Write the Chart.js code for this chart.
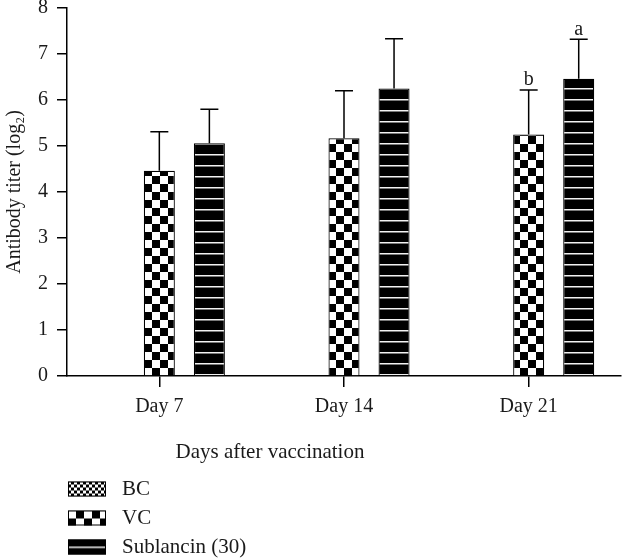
<!DOCTYPE html>
<html><head><meta charset="utf-8">
<script src="https://cdn.jsdelivr.net/npm/chart.js@4.4.0/dist/chart.umd.min.js"></script>
<style>html,body{margin:0;padding:0;background:#fff}#wrap{width:624px;height:560px;position:relative}</style>
</head><body><div id="wrap"><canvas id="c" width="624" height="560"></canvas></div>
<script>
const categories = ['Day 7', 'Day 14', 'Day 21'];
const seriesNames = ['BC', 'VC', 'Sublancin (30)'];
const bcValues = [null, null, null];
const vcValues = [4.46, 5.17, 5.25];
const sublancinValues = [5.06, 6.25, 6.46];
const bcErrorTop = [null, null, null];
const vcErrorTop = [5.31, 6.20, 6.22];
const sublancinErrorTop = [5.80, 7.33, 7.32];
const bcLetters = ['', '', ''];
const vcLetters = ['', '', 'b'];
const sublancinLetters = ['', '', 'a'];
const yTicks = [0, 1, 2, 3, 4, 5, 6, 7, 8];
const xTitle = 'Days after vaccination';
const yTitle = 'Antibody titer (log\u2082)';

const FONT = "'Liberation Serif', 'DejaVu Serif', serif";
const INK = '#1a1a1a';
const canvas = document.getElementById('c');
const ctx = canvas.getContext('2d');

function checker(s) {
  const c = document.createElement('canvas');
  c.width = c.height = s * 2;
  const g = c.getContext('2d');
  g.fillStyle = '#fff'; g.fillRect(0, 0, s * 2, s * 2);
  g.fillStyle = '#000'; g.fillRect(s, 0, s, s); g.fillRect(0, s, s, s);
  return ctx.createPattern(c, 'repeat');
}
function stripes(h) {
  const c = document.createElement('canvas');
  c.width = 8; c.height = h;
  const g = c.getContext('2d');
  g.fillStyle = '#000'; g.fillRect(0, 0, 8, h);
  g.fillStyle = '#f2f2f2'; g.fillRect(0, 0, 8, 1.5);
  return ctx.createPattern(c, 'repeat');
}
const bcPattern = checker(3);
const vcPattern = checker(8);
const subPattern = stripes(11);

const errors = [bcErrorTop, vcErrorTop, sublancinErrorTop];
const letters = [bcLetters, vcLetters, sublancinLetters];
const fills = [bcPattern, vcPattern, subPattern];

const extras = {
  id: 'extras',
  afterDatasetsDraw(chart) {
    const c = chart.ctx, y = chart.scales.y;
    c.save();
    c.strokeStyle = '#000'; c.lineWidth = 1.5;
    c.fillStyle = INK;
    c.font = '20px ' + FONT;
    c.textAlign = 'center'; c.textBaseline = 'alphabetic';
    errors.forEach((arr, di) => {
      const meta = chart.getDatasetMeta(di);
      arr.forEach((v, i) => {
        if (v == null) return;
        const bar = meta.data[i];
        const yt = y.getPixelForValue(v);
        c.beginPath();
        c.moveTo(bar.x, bar.y); c.lineTo(bar.x, yt);
        c.moveTo(bar.x - 9, yt); c.lineTo(bar.x + 9, yt);
        c.stroke();
        const L = letters[di][i];
        if (L) c.fillText(L, bar.x, yt - 4.5);
      });
    });
    c.restore();
  },
  afterDraw(chart) {
    const c = chart.ctx;
    c.save();
    c.fillStyle = INK;
    c.font = '21px ' + FONT;
    c.textAlign = 'center'; c.textBaseline = 'middle';
    c.fillText(xTitle, 270, 452);
    // legend
    const ys = [489, 518, 547];
    c.textAlign = 'left';
    seriesNames.forEach((name, i) => {
      const top = ys[i] - 7.5;
      const p = fills[i];
      if (p.setTransform) p.setTransform(new DOMMatrix().translate(68, top + (i === 2 ? 7 : 0)));
      c.fillStyle = p;
      c.fillRect(68, top, 38, 15);
      c.strokeStyle = '#000'; c.lineWidth = 1;
      c.strokeRect(68.5, top + 0.5, 37, 14);
      if (p.setTransform) p.setTransform(new DOMMatrix());
      c.fillStyle = INK;
      c.fillText(name, 122, ys[i]);
    });
    c.restore();
  }
};

const ds = (label, data, fill) => ({
  label, data, backgroundColor: fill, borderColor: '#000', borderWidth: 1.2,
  categoryPercentage: 0.813, barPercentage: 0.62
});

new Chart(canvas, {
  type: 'bar',
  data: {
    labels: categories,
    datasets: [
      ds(seriesNames[0], bcValues, bcPattern),
      ds(seriesNames[1], vcValues, vcPattern),
      ds(seriesNames[2], sublancinValues, subPattern)
    ]
  },
  options: {
    responsive: false, animation: false,
    layout: { padding: { top: 8, right: 3, bottom: 0, left: 0 } },
    plugins: { legend: { display: false }, tooltip: { enabled: false } },
    scales: {
      x: {
        grid: { display: true, offset: false, drawOnChartArea: false, drawTicks: true, tickLength: 11, color: '#000', lineWidth: 1.5 },
        border: { display: true, color: '#000', width: 1.5 },
        ticks: { color: INK, font: { family: FONT, size: 20 }, padding: 8, maxRotation: 0 },
        afterFit(s) { s.height = 184; s.paddingLeft = 0; s.paddingRight = 0; }
      },
      y: {
        min: 0, max: 8,
        afterBuildTicks(s) { s.ticks = yTicks.map(v => ({ value: v })); },
        ticks: { color: INK, font: { family: FONT, size: 20 }, padding: 9 },
        grid: { display: true, drawOnChartArea: false, drawTicks: true, tickLength: 10, color: '#000', lineWidth: 1.5 },
        border: { display: true, color: '#000', width: 1.5 },
        title: { display: true, text: yTitle, color: INK, font: { family: FONT, size: 20 }, padding: { top: 3, bottom: 0 } },
        afterFit(s) { s.width = 67; s.paddingTop = 0; s.paddingBottom = 0; }
      }
    }
  },
  plugins: [extras]
});
</script></body></html>
